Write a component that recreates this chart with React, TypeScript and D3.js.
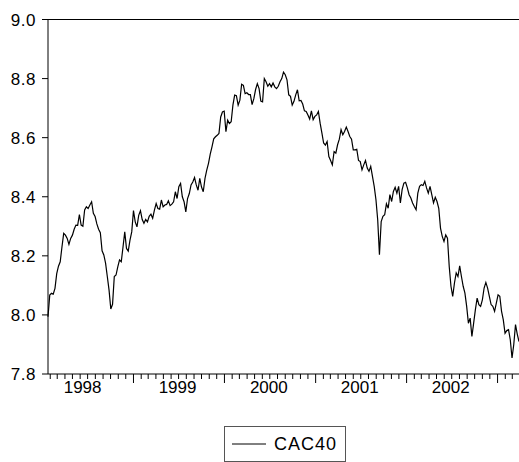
import React from "react";
import * as d3 from "d3";

const cac1998 = [
  7.994, 8.067, 8.073, 8.07, 8.09, 8.14, 8.165, 8.18, 8.23, 8.276,
  8.27, 8.259, 8.239, 8.259, 8.27, 8.29, 8.304, 8.303, 8.34, 8.304,
  8.30, 8.355, 8.366, 8.36, 8.372, 8.383, 8.344, 8.333, 8.308, 8.29,
  8.278, 8.217, 8.203, 8.175, 8.13, 8.084, 8.02, 8.036, 8.13, 8.135,
  8.163, 8.186, 8.18, 8.23, 8.281, 8.225, 8.216, 8.253, 8.281,
];
const cac1999 = [
  8.353, 8.315, 8.298, 8.337, 8.353, 8.323, 8.31, 8.323, 8.315, 8.334, 8.341,
  8.327, 8.355, 8.377, 8.36, 8.358, 8.389, 8.366, 8.372, 8.374, 8.386, 8.37,
  8.375, 8.383, 8.417, 8.394, 8.434, 8.445,
  8.40, 8.383, 8.349, 8.394, 8.411, 8.44, 8.45, 8.465, 8.44, 8.422,
  8.462, 8.433, 8.417, 8.462, 8.49, 8.513, 8.544, 8.569, 8.596, 8.603,
  8.608, 8.614, 8.67, 8.687, 8.69,
];
const cac2000 = [
  8.62, 8.659, 8.648, 8.654, 8.71, 8.744, 8.742, 8.71, 8.727, 8.781,
  8.777, 8.749, 8.752, 8.746, 8.746, 8.712, 8.732, 8.763, 8.783, 8.766,
  8.724, 8.721, 8.80, 8.789, 8.774, 8.783, 8.772, 8.785,
  8.772, 8.766, 8.774, 8.789, 8.80, 8.822,
  8.813, 8.796, 8.745, 8.74, 8.71, 8.723, 8.745, 8.762, 8.725, 8.726,
  8.714, 8.691, 8.689, 8.677, 8.663, 8.691, 8.661, 8.672,
];
const cac2001 = [
  8.677, 8.689,
  8.649, 8.616, 8.582, 8.575, 8.587, 8.536, 8.523, 8.508, 8.553, 8.548,
  8.576, 8.595, 8.627, 8.61, 8.621, 8.636, 8.621, 8.604, 8.595, 8.559, 8.559,
  8.561, 8.523, 8.519, 8.491, 8.508, 8.523, 8.497, 8.486, 8.503, 8.469,
  8.435, 8.39, 8.322, 8.204, 8.316, 8.334, 8.339, 8.376, 8.361, 8.407,
  8.384, 8.418, 8.432,
  8.412, 8.435, 8.379, 8.424, 8.446, 8.449,
];
const cac2002 = [
  8.43, 8.407, 8.396, 8.379, 8.367, 8.356, 8.412, 8.435, 8.441, 8.438,
  8.452, 8.43, 8.412, 8.435, 8.407, 8.379, 8.398, 8.384, 8.361, 8.294,
  8.266, 8.249, 8.271, 8.26, 8.164, 8.097, 8.063, 8.108, 8.142, 8.13,
  8.166, 8.13, 8.097, 8.074, 8.029, 7.972, 7.989, 7.927, 7.972, 8.018,
  8.057, 8.035, 8.029, 8.051, 8.091, 8.11, 8.091, 8.063, 8.035, 8.029,
  8.012, 8.04,
];
const cac2003 = [
  8.068, 8.063, 8.012, 7.983, 7.938, 7.947, 7.95, 7.916, 7.854, 7.90,
  7.967, 7.935, 7.91,
];

const seriesName = "CAC40";
const firstWeek = new Date(1998, 0, 23);
const yTicks = [7.8, 8.0, 8.2, 8.4, 8.6, 8.8, 9.0];
const yearLabels = [1998, 1999, 2000, 2001, 2002];

const W = 519;
const H = 462;
const M = { left: 48, top: 19.5, right: 519, bottom: 374 };
const FONT = "'Liberation Sans', Arial, sans-serif";

export default function App() {
  const values = [...cac1998, ...cac1999, ...cac2000, ...cac2001, ...cac2002, ...cac2003];
  const data = values.map((v, i) => ({ date: d3.timeDay.offset(firstWeek, 7 * i), v }));
  const lastDate = data[data.length - 1].date;

  const x = d3.scaleTime().domain([firstWeek, lastDate]).range([M.left, M.right]);
  const y = d3.scaleLinear().domain([7.8, 9.0]).range([M.bottom, M.top]);

  const line = d3
    .line<{ date: Date; v: number }>()
    .x((d) => x(d.date))
    .y((d) => y(d.v));

  const months = d3.timeMonth.range(d3.timeMonth.ceil(firstWeek), lastDate);

  return (
    <svg
      width={W}
      height={H}
      viewBox={`0 0 ${W} ${H}`}
      style={{ position: "absolute", left: 0, top: 0, background: "#fff" }}
    >
      <rect x={0} y={0} width={W} height={H} fill="#fff" />
      {/* frame */}
      <line x1={M.left} x2={W} y1={M.top} y2={M.top} stroke="#000" strokeWidth={1} />
      <line x1={M.left} x2={M.left} y1={M.top} y2={M.bottom} stroke="#000" strokeWidth={1} />
      <line x1={M.left} x2={W} y1={M.bottom} y2={M.bottom} stroke="#000" strokeWidth={1} />

      {/* y axis */}
      {yTicks.map((t) => (
        <g key={t}>
          <line x1={M.left - 6} x2={M.left} y1={y(t)} y2={y(t)} stroke="#000" strokeWidth={1} />
          <text
            x={M.left - 12}
            y={y(t)}
            dy="0.36em"
            textAnchor="end"
            fontFamily={FONT}
            fontSize={17}
            letterSpacing={0.5}
            fill="#000"
          >
            {t.toFixed(1)}
          </text>
        </g>
      ))}

      {/* x axis ticks */}
      {months.map((m) => {
        const major = m.getMonth() === 0;
        return (
          <line
            key={m.toISOString()}
            x1={x(m)}
            x2={x(m)}
            y1={M.bottom}
            y2={M.bottom + (major ? 9 : 5)}
            stroke="#000"
            strokeWidth={1}
          />
        );
      })}
      {yearLabels.map((yr, i) => (
        <text
          key={yr}
          x={x(new Date(yr, 6, 1)) - (i === 0 ? 5 : 1)}
          y={393}
          textAnchor="middle"
          fontFamily={FONT}
          fontSize={17}
          fill="#000"
        >
          {yr}
        </text>
      ))}

      {/* series */}
      <path d={line(data) || ""} fill="none" stroke="#000" strokeWidth={1.2} />

      {/* legend */}
      <rect x={224.5} y={426.5} width={121} height={35} fill="#fff" stroke="#555" strokeWidth={1} />
      <line x1={232} x2={266} y1={444} y2={444} stroke="#000" strokeWidth={1} />
      <text x={274} y={450} fontFamily={FONT} fontSize={18} letterSpacing={1} fill="#000">
        {seriesName}
      </text>
    </svg>
  );
}
